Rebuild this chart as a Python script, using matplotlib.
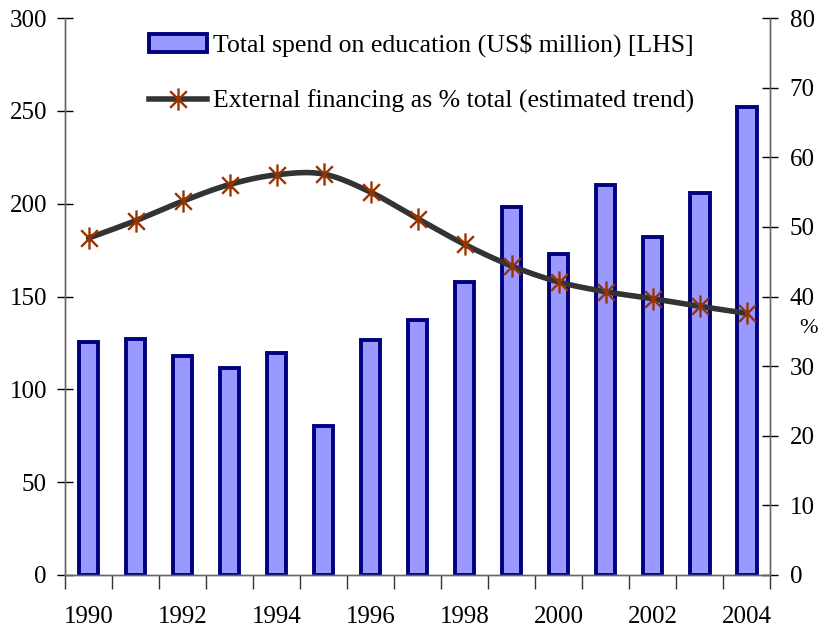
import numpy as np
import matplotlib
matplotlib.use("Agg")
import matplotlib.pyplot as plt
from matplotlib.path import Path

plt.rcParams['font.family'] = ['Liberation Serif', 'DejaVu Serif']

# Data
years = list(range(1990, 2005))
spend = [125.5, 127.4, 118, 111.3, 119.8, 80, 126.5, 137.3, 157.8, 198.3, 172.8, 210.3, 182.2, 206, 252]
ext_pct = [48.4, 50.9, 53.7, 56.1, 57.5, 57.6, 55.0, 51.2, 47.5, 44.4, 42.1, 40.7, 39.7, 38.6, 37.6]
year_labels = [str(y) if y % 2 == 0 else "" for y in years]

bar_label = "Total spend on education (US$ million) [LHS]"
line_label = "External financing as % total (estimated trend)"


def smooth(x, y, n=20):
    # Catmull-Rom curve through the points (like Excel's smoothed line)
    x = np.asarray(x, float)
    y = np.asarray(y, float)
    px = np.concatenate([[2 * x[0] - x[1]], x, [2 * x[-1] - x[-2]]])
    py = np.concatenate([[2 * y[0] - y[1]], y, [2 * y[-1] - y[-2]]])
    t = np.linspace(0, 1, n, endpoint=False)
    xs, ys = [], []
    for i in range(1, len(px) - 2):
        for p, out in ((px, xs), (py, ys)):
            p0, p1, p2, p3 = p[i - 1], p[i], p[i + 1], p[i + 2]
            out.extend(0.5 * (2 * p1 + (-p0 + p2) * t
                              + (2 * p0 - 5 * p1 + 4 * p2 - p3) * t ** 2
                              + (-p0 + 3 * p1 - 3 * p2 + p3) * t ** 3))
    xs.append(x[-1])
    ys.append(y[-1])
    return np.array(xs), np.array(ys)


# asterisk marker: vertical bar plus an X
star = Path([(0, -1), (0, 1), (-0.75, -0.75), (0.75, 0.75), (-0.75, 0.75), (0.75, -0.75)],
            [Path.MOVETO, Path.LINETO, Path.MOVETO, Path.LINETO, Path.MOVETO, Path.LINETO])

fig = plt.figure(figsize=(8.18, 6.27), dpi=100)
ax = fig.add_axes([0.0795, 0.083, 0.862, 0.888])
ax2 = ax.twinx()

pos = np.arange(len(years))
bars = ax.bar(pos, spend, width=0.42, color="#9999FF", edgecolor="#000080",
              linewidth=2.8, label=bar_label, zorder=2)

sx, sy = smooth(pos, ext_pct)
ax2.plot(sx, sy, color="#333333", lw=4, solid_capstyle="round", zorder=3)
ax2.plot(pos, ext_pct, ls="none", marker=star, ms=16, mew=1.7,
         mec="#993300", mfc="none", zorder=4)

ax.set_xlim(-0.5, len(years) - 0.5)
ax.set_ylim(0, 300)
ax.set_yticks(range(0, 301, 50))
ax2.set_ylim(0, 80)
ax2.set_yticks(range(0, 81, 10))

# ticks at the category edges, labels at the centres
ax.set_xticks(np.arange(-0.5, len(years), 1.0))
ax.set_xticklabels([])
ax.set_xticks(pos, minor=True)
ax.set_xticklabels(year_labels, minor=True)
ax.tick_params(axis="x", which="major", direction="out", length=10, width=1, color="#333333")
ax.tick_params(axis="x", which="minor", length=0, pad=22, labelsize=18)
ax.tick_params(axis="y", direction="inout", length=12, width=1, labelsize=18, pad=7)
ax2.tick_params(axis="y", direction="inout", length=12, width=1, labelsize=18, pad=8)

for a in (ax, ax2):
    a.spines["top"].set_visible(False)
    for s in ("left", "right", "bottom"):
        a.spines[s].set_color("#666666")
        a.spines[s].set_linewidth(1)

ax2.text(1.054, 0.443, "%", transform=ax.transAxes, fontsize=16, ha="center", va="center")

# legend
line_handle = plt.Line2D([], [], color="#333333", lw=4, marker=star, ms=16, mew=1.7,
                         mec="#993300", mfc="none")
leg = ax2.legend([bars, line_handle], [bar_label, line_label], loc="upper left",
                 bbox_to_anchor=(149 / 818, 1 - 33 / 627), bbox_transform=fig.transFigure,
                 frameon=False, fontsize=18.5, borderpad=0, borderaxespad=0,
                 handlelength=2.26, handletextpad=0.23, labelspacing=1.27)

fig.savefig("out.png", dpi=100)
